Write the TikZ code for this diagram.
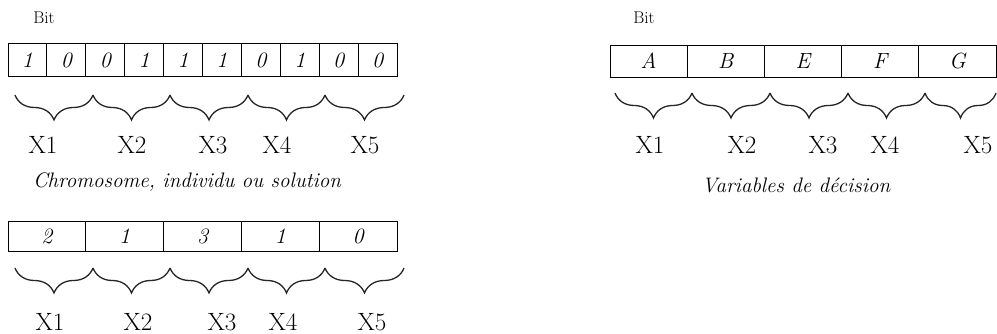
\documentclass[tikz,border=0pt]{standalone}
\usetikzlibrary{decorations.pathreplacing}
\begin{document}
\begin{tikzpicture}[x=1pt,y=-1pt,
  cell/.style={draw, line width=0.9pt, inner sep=0pt, font=\fontsize{22}{26}\selectfont\itshape},
  bracestyle/.style={decorate, decoration={brace,mirror,amplitude=25pt}, line width=1.3pt, color=black!85},
  lab/.style={font=\fontsize{25}{30}\selectfont, inner sep=0pt},
  captxt/.style={font=\fontsize{21}{26}\selectfont\itshape, inner sep=0pt},
  bitlab/.style={font=\fontsize{17}{20}\selectfont, inner sep=0pt}]
\useasboundingbox (0,0) rectangle (997,334);

% Top-left binary chromosome
\node[bitlab] (bitA) at (44,18) {Bit};
\foreach \v [count=\i] in {1,0,0,1,1,1,0,1,0,0}{
  \node[cell, minimum width=38.9pt, minimum height=33pt] (a\i) at ({8+38.9*(\i-0.5)},60) {\v};
}
\foreach \s/\e in {15/93,93/170,170/248,248/325,325/404}{
  \draw[bracestyle] (\s,95) -- (\e,95);
}
\foreach \x/\t [count=\i] in {43/X1,132/X2,213/X3,277/X4,365/X5}{
  \node[lab] (la\i) at (\x,145) {\t};
}
\node[captxt] (capA) at (187,182) {Chromosome, individu ou solution};

% Bottom-left integer chromosome
\foreach \v [count=\i] in {2,1,3,1,0}{
  \node[cell, minimum width=77.8pt, minimum height=30pt] (b\i) at ({8+77.8*(\i-0.5)},236) {\v};
}
\foreach \s/\e in {15/93,93/170,170/248,248/325,325/404}{
  \draw[bracestyle] (\s,268) -- (\e,268);
}
\foreach \x/\t [count=\i] in {50/X1,138/X2,222/X3,283/X4,372/X5}{
  \node[lab] (lb\i) at (\x,322) {\t};
}

% Right: decision variables
\node[bitlab] (bitC) at (644,18) {Bit};
\foreach \v [count=\i] in {A,B,E,F,G}{
  \node[cell, minimum width=77.2pt, minimum height=32pt] (c\i) at ({610+77.2*(\i-0.5)},61) {\v};
}
\foreach \s/\e in {615/692,692/770,770/848,848/925,925/996}{
  \draw[bracestyle] (\s,93) -- (\e,93);
}
\foreach \x/\t [count=\i] in {650/X1,742/X2,823/X3,885/X4,978/X5}{
  \node[lab] (lc\i) at (\x,145) {\t};
}
\node[captxt] (capC) at (796,185) {Variables de décision};
\end{tikzpicture}
\end{document}
